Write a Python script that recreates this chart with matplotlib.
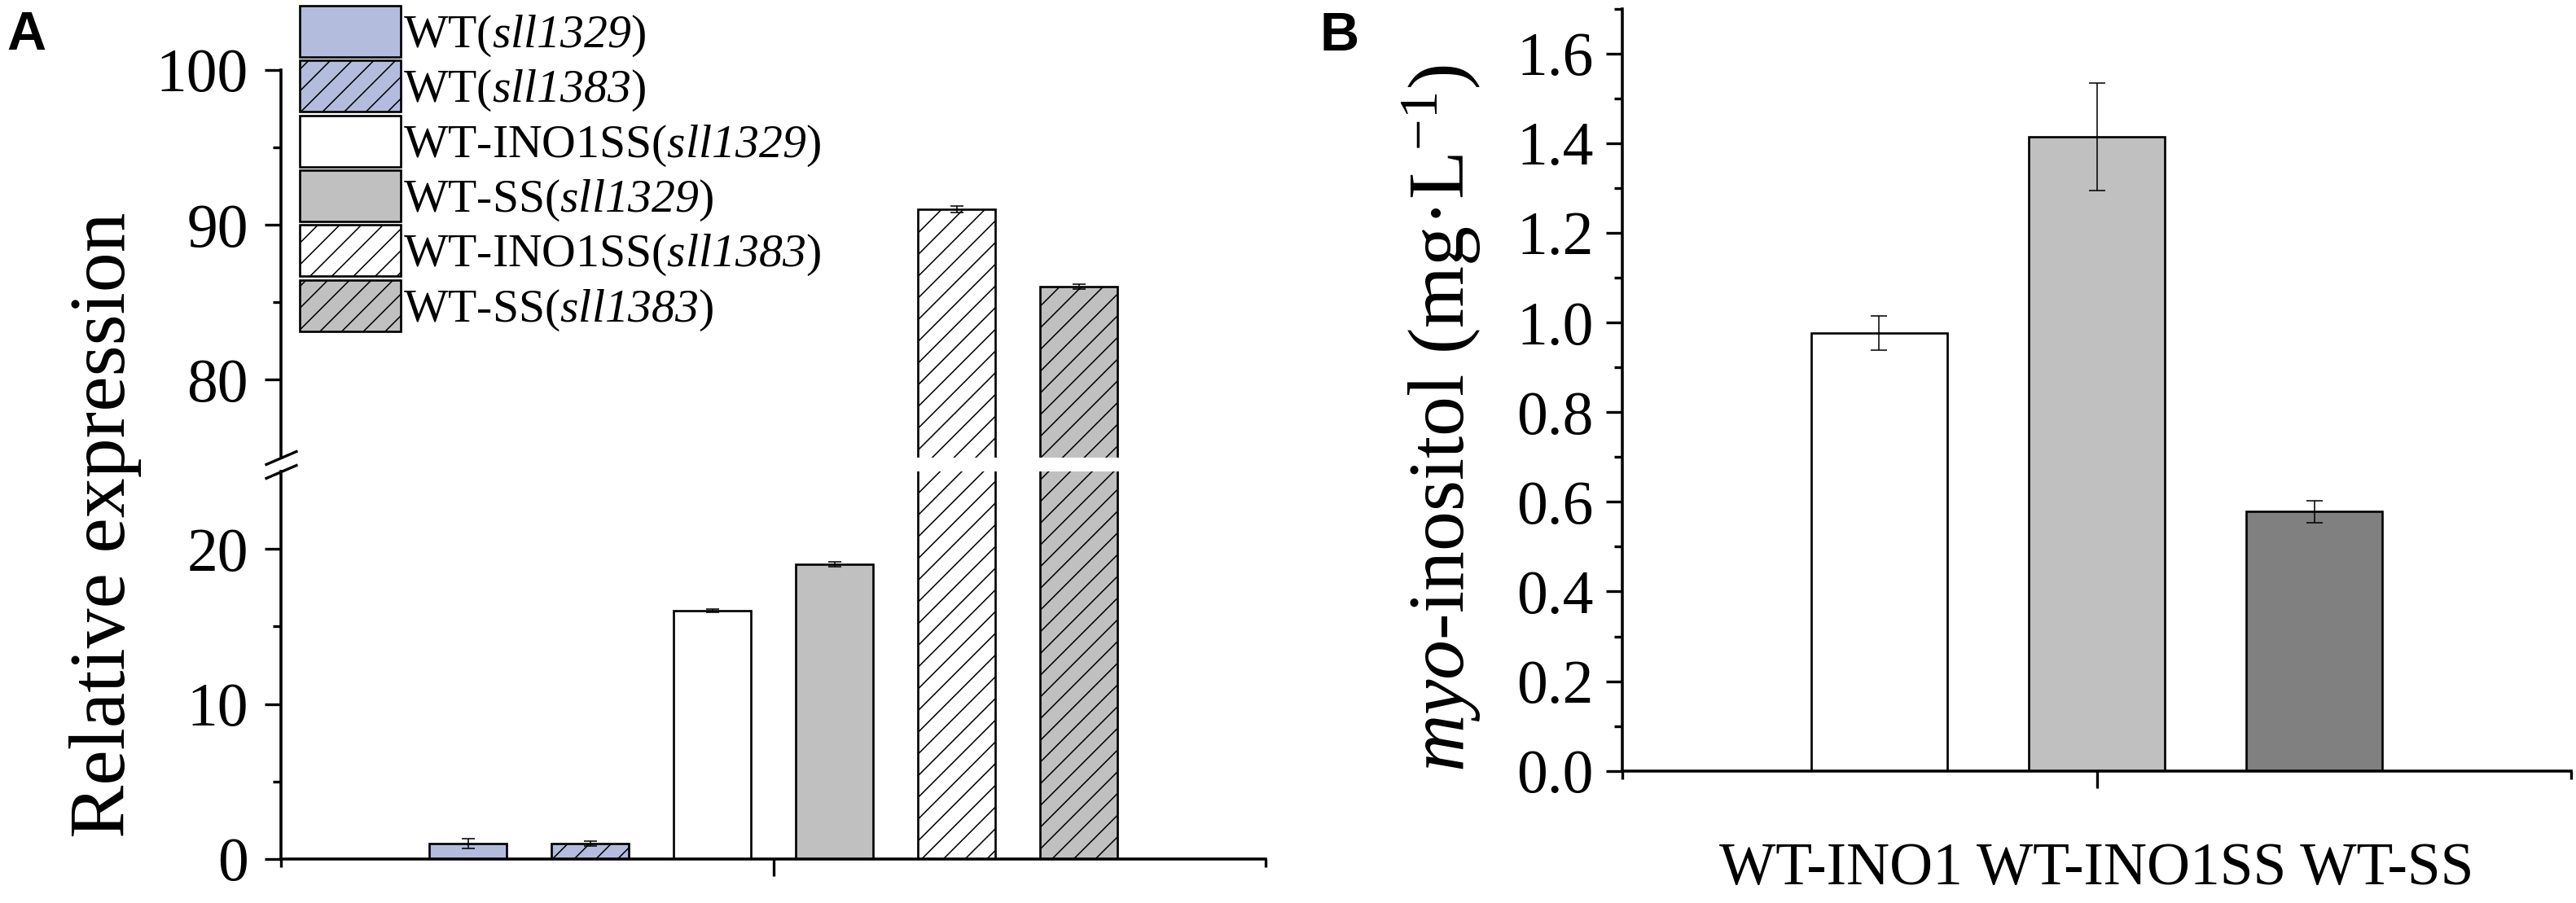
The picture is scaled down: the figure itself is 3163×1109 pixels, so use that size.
import numpy as np
import matplotlib
matplotlib.use('Agg')
import matplotlib.pyplot as plt

plt.rcParams['font.family'] = ['Liberation Serif', 'DejaVu Serif']
plt.rcParams['mathtext.fontset'] = 'custom'
plt.rcParams['mathtext.rm'] = 'Liberation Serif'
plt.rcParams['mathtext.it'] = 'Liberation Serif:italic'
# italic face also for digits (mathit sends digits to roman)
plt.rcParams['mathtext.sf'] = 'Liberation Serif:italic'
plt.rcParams['hatch.linewidth'] = 0.7

# ----- Panel A: relative expression -----
labels_a = ['WT($\\mathsf{sll1329}$)', 'WT($\\mathsf{sll1383}$)',
            'WT-INO1SS($\\mathsf{sll1329}$)', 'WT-SS($\\mathsf{sll1329}$)',
            'WT-INO1SS($\\mathsf{sll1383}$)', 'WT-SS($\\mathsf{sll1383}$)']
expr_a = [1.0, 1.0, 16.0, 19.0, 91.0, 86.0]
err_a = [0.3, 0.15, 0.1, 0.15, 0.2, 0.15]
colors_a = ['#b4bcde', '#b4bcde', 'white', '#c0c0c0', 'white', '#c0c0c0']
hatch_a = ['', '//', '', '', '//', '//']

# ----- Panel B: myo-inositol -----
groups_b = ['WT-INO1', 'WT-INO1SS', 'WT-SS']
inositol_b = [0.976, 1.415, 0.578]
err_b = [0.038, 0.12, 0.024]
colors_b = ['white', '#c0c0c0', '#808080']

W, H, DPI = 3163, 1109, 160
fig = plt.figure(figsize=(W / DPI, H / DPI), dpi=DPI)


def box(l, t, r, b):
    return [l / W, 1 - b / H, (r - l) / W, (b - t) / H]


ax_top = fig.add_axes(box(345, 86, 1554, 561.5))
ax_bot = fig.add_axes(box(345, 579, 1554, 1055))
ax_b = fig.add_axes(box(1992, 10.7, 3157, 946.7))

x_a = np.arange(len(expr_a))
handles = []
for ax in (ax_top, ax_bot):
    for i in range(len(expr_a)):
        p = ax.bar(x_a[i], expr_a[i], width=0.633, color=colors_a[i],
                   edgecolor='black', linewidth=1.2, hatch=hatch_a[i],
                   label=labels_a[i])
        if ax is ax_bot:
            handles.append(p)
    ax.errorbar(x_a, expr_a, yerr=err_a, fmt='none', ecolor='black',
                elinewidth=0.7, capsize=3.4, capthick=0.7)
    ax.set_xlim(-1.53, 6.53)
    ax.spines['top'].set_visible(False)
    ax.spines['right'].set_visible(False)
    ax.spines['left'].set_linewidth(1.6)
    ax.spines['bottom'].set_linewidth(1.6)
    ax.tick_params(axis='y', which='major', direction='out', length=9,
                   width=1.5, labelsize=34, pad=9)
    ax.tick_params(axis='y', which='minor', direction='out', length=4.5,
                   width=1.5)

ax_top.set_ylim(75, 100)
ax_top.set_yticks([80, 90, 100])
ax_top.set_yticks([85, 95], minor=True)
ax_top.spines['bottom'].set_visible(False)
ax_top.set_xticks([])

ax_bot.set_ylim(0, 25)
ax_bot.set_yticks([0, 10, 20])
ax_bot.set_yticks([5, 15], minor=True)
ax_bot.set_xticks([2.5])
ax_bot.set_xticklabels([''])
ax_bot.set_xticks([-1.53, 6.53], minor=True)
ax_bot.tick_params(axis='x', which='major', direction='out', length=9.5, width=1.5)
ax_bot.tick_params(axis='x', which='minor', direction='out', length=4.5, width=1.5)

# axis break marks
kw = dict(marker=[(-1, -0.43), (1, 0.43)], markersize=18, linestyle='none',
          color='k', mec='k', mew=1.5, clip_on=False)
ax_top.plot([0], [0], transform=ax_top.transAxes, **kw)
ax_bot.plot([0], [1], transform=ax_bot.transAxes, **kw)

fig.legend(handles, labels_a, loc='upper left',
           bbox_to_anchor=(368 / W, 1 - 7 / H), frameon=False, fontsize=26,
           handlelength=2.15, handleheight=1.3, labelspacing=0.04,
           handletextpad=0.05, borderpad=0, borderaxespad=0)

fig.text(153 / W, 1 - 645 / H, 'Relative expression', rotation=90,
         rotation_mode='anchor', ha='center', va='baseline', fontsize=44)
fig.text(8 / W, 1 - 13 / H, 'A', family='Liberation Sans', weight='bold',
         fontsize=30, ha='left', va='top')

# ----- Panel B -----
x_b = np.arange(len(groups_b))
ax_b.bar(x_b, inositol_b, width=0.625, color=colors_b, edgecolor='black',
         linewidth=1.2)
ax_b.errorbar(x_b, inositol_b, yerr=err_b, fmt='none', ecolor='black',
              elinewidth=0.7, capsize=4.5, capthick=0.7)
ax_b.set_xlim(-1.18, 3.18)
ax_b.set_ylim(0, 1.7)
ax_b.set_yticks(np.arange(0, 1.61, 0.2))
ax_b.set_yticks(np.arange(0.1, 1.71, 0.2), minor=True)
ax_b.yaxis.set_major_formatter(matplotlib.ticker.FormatStrFormatter('%.1f'))
ax_b.set_xticks([1])
ax_b.set_xticklabels([' '.join(groups_b)])
ax_b.set_xticks([-1.18, 3.18], minor=True)
ax_b.spines['top'].set_visible(False)
ax_b.spines['right'].set_visible(False)
ax_b.spines['left'].set_linewidth(1.6)
ax_b.spines['bottom'].set_linewidth(1.6)
ax_b.tick_params(axis='y', which='major', direction='out', length=9,
                 width=1.5, labelsize=34, pad=7)
ax_b.tick_params(axis='y', which='minor', direction='out', length=4.5, width=1.5)
ax_b.tick_params(axis='x', which='major', direction='out', length=9.5,
                 width=1.5, labelsize=33, pad=30)
ax_b.tick_params(axis='x', which='minor', direction='out', length=4.5, width=1.5)

fig.text(1797 / W, 1 - 514 / H, '$\\mathit{myo}$-inositol (mg\u00b7L$^{-1}$)',
         rotation=90, rotation_mode='anchor', ha='center', va='baseline',
         fontsize=44)
fig.text(1620 / W, 1 - 14 / H, 'B', family='Liberation Sans', weight='bold',
         fontsize=30, ha='left', va='top')

fig.savefig('out.png', dpi=DPI)
